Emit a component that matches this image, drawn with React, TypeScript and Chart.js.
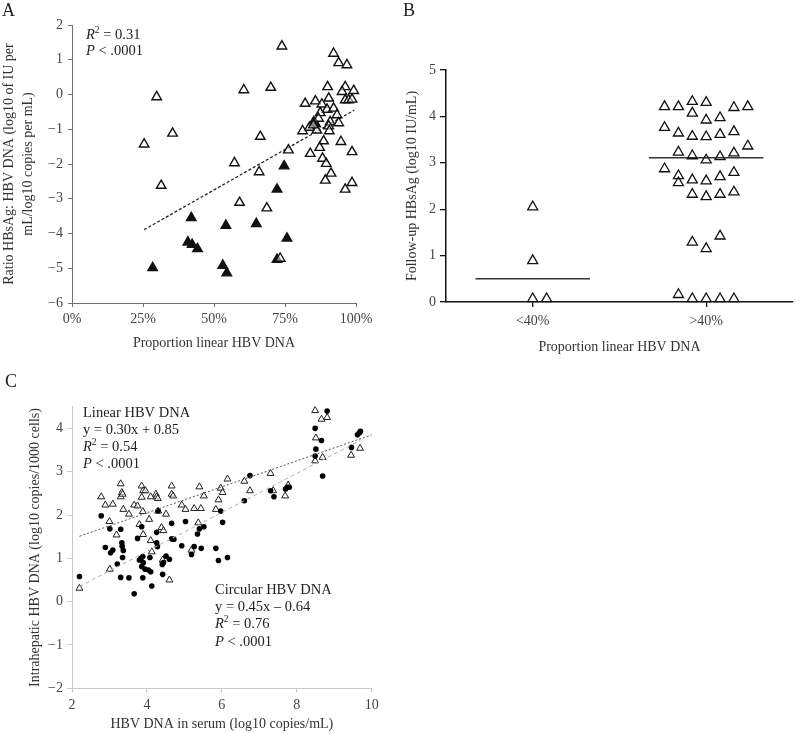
import React, { useEffect, useRef } from 'react';
import { Chart, registerables } from 'chart.js';

Chart.register(...registerables);

const FONT = "'Liberation Serif', 'DejaVu Serif', 'Times New Roman', serif";

// ---------- Panel A data ----------
const aOpen: number[][] = [
  [0.254, -1.43], [0.298, -0.07], [0.314, -2.62], [0.354, -1.12], [0.605, 0.13], [0.700, 0.20],
  [0.739, 1.39], [0.663, -1.21], [0.572, -1.97], [0.659, -2.23], [0.590, -3.11], [0.686, -3.27],
  [0.762, -1.60], [0.733, -4.72], [0.921, 1.18], [0.939, 0.91], [0.968, 0.85], [0.900, 0.22],
  [0.962, 0.22], [0.951, 0.08], [0.992, 0.11], [0.904, -0.11], [0.962, -0.16], [0.974, -0.16],
  [0.986, -0.14], [0.821, -0.26], [0.857, -0.19], [0.880, -0.28], [0.898, -0.43], [0.921, -0.40],
  [0.874, -0.53], [0.868, -0.69], [0.933, -0.59], [0.909, -0.79], [0.939, -0.82], [0.904, -0.91],
  [0.836, -0.95], [0.862, -1.03], [0.812, -1.05], [0.906, -1.05], [0.886, -1.34], [0.947, -1.36],
  [0.839, -1.70], [0.872, -1.53], [0.986, -1.65], [0.882, -1.84], [0.895, -1.99], [0.912, -2.27],
  [0.892, -2.47], [0.986, -2.54], [0.962, -2.73], [0.850, -0.88],
];
const aFilled: number[][] = [
  [0.284, -4.99], [0.420, -3.55], [0.408, -4.25], [0.423, -4.32], [0.442, -4.44], [0.542, -3.77],
  [0.531, -4.92], [0.545, -5.14], [0.649, -3.72], [0.722, -2.73], [0.747, -2.06], [0.757, -4.14],
  [0.722, -4.75], [0.851, -0.79], [0.858, -0.85],
];
const aTrendX = [0.254, 0.994];
const aTrendY = [-3.89, -0.45];
const aXTicks = [0, 0.25, 0.5, 0.75, 1];
const aYTicks = [-6, -5, -4, -3, -2, -1, 0, 1, 2];

// ---------- Panel B data ----------
const bCategories = ['<40%', '>40%'];
const bCategoryPos = [1, 3];
const bLowColumns: number[][] = [[2.05, 0.89, 0.07], [0.07]];
const bHighColumns: number[][] = [
  [4.21, 3.76, 2.87],
  [4.21, 3.64, 3.23, 2.72, 2.57, 0.16],
  [4.32, 4.07, 3.57, 3.15, 2.63, 2.32, 1.29, 0.07],
  [4.30, 3.92, 3.56, 3.06, 2.61, 2.27, 1.15, 0.07],
  [3.97, 3.61, 3.13, 2.70, 2.32, 1.42, 0.07],
  [4.19, 3.67, 3.21, 2.79, 2.37, 0.07],
  [4.21, 3.36],
];
const bMedians = [0.5, 3.11];
const bYTicks = [0, 1, 2, 3, 4, 5];

// ---------- Panel C data ----------
const cLinear: number[][] = [
  [2.20, 0.31], [2.78, 2.42], [2.89, 2.23], [3.09, 2.25], [3.00, 1.85], [3.19, 1.54], [3.01, 0.75],
  [3.30, 2.72], [3.30, 2.42], [3.33, 2.52], [3.35, 2.48], [3.37, 2.13], [3.52, 2.02], [3.66, 2.23],
  [3.75, 2.21], [3.86, 2.67], [3.86, 2.41], [3.90, 2.56], [3.96, 2.56], [3.89, 2.08], [3.80, 1.78],
  [3.90, 1.55], [4.06, 1.90], [4.10, 2.42], [4.10, 1.41], [4.13, 1.15], [4.24, 2.48], [4.26, 2.42],
  [4.29, 2.38], [4.30, 2.09], [4.39, 1.71], [4.44, 1.64], [4.42, 0.96], [4.51, 2.02], [4.60, 0.50],
  [4.66, 2.67], [4.66, 2.48], [4.70, 2.44], [4.93, 2.23], [5.03, 2.13], [5.19, 1.19], [5.26, 2.15],
  [5.40, 2.65], [5.44, 2.15], [5.37, 1.82], [5.52, 2.44], [5.84, 2.13], [5.91, 2.35], [5.97, 2.62],
  [6.02, 2.52], [6.15, 2.83], [6.60, 2.78], [6.75, 2.56], [7.30, 2.96], [7.37, 2.56], [7.69, 2.44],
  [7.77, 2.69], [8.49, 4.41], [8.51, 3.78], [8.49, 3.25], [8.66, 4.21], [8.81, 4.25], [8.69, 3.33],
  [9.45, 3.38], [9.69, 3.54],
];
const cCircular: number[][] = [
  [2.20, 0.58], [2.78, 1.98], [2.89, 1.25], [3.01, 1.68], [3.03, 1.13], [3.09, 1.19], [3.21, 0.87],
  [3.30, 1.67], [3.33, 1.36], [3.34, 1.28], [3.35, 1.02], [3.37, 1.18], [3.30, 0.56], [3.52, 0.55],
  [3.66, 0.18], [3.75, 1.46], [3.80, 0.96], [3.84, 1.00], [3.86, 0.81], [3.89, 1.04], [3.90, 0.90],
  [3.86, 1.73], [3.89, 0.55], [3.95, 0.75], [4.08, 1.02], [4.04, 0.73], [4.10, 0.69], [4.13, 0.36],
  [4.26, 1.60], [4.26, 1.36], [4.28, 1.27], [4.30, 2.10], [4.41, 0.86], [4.42, 0.63], [4.44, 0.90],
  [4.51, 1.05], [4.60, 0.98], [4.66, 1.81], [4.66, 1.45], [4.72, 1.44], [4.93, 1.29], [5.03, 1.85],
  [5.19, 1.09], [5.26, 1.27], [5.35, 1.56], [5.40, 1.68], [5.45, 1.23], [5.52, 1.73], [5.84, 1.23],
  [5.91, 0.95], [5.97, 2.09], [6.02, 1.83], [6.15, 1.02], [6.60, 2.33], [6.75, 2.91], [7.30, 2.56],
  [7.39, 2.42], [7.70, 2.60], [7.75, 2.64], [7.80, 2.64], [8.49, 4.00], [8.51, 3.52], [8.49, 3.36],
  [8.66, 3.72], [8.69, 2.90], [8.81, 4.40], [9.46, 3.56], [9.62, 3.85], [9.67, 3.90], [9.70, 3.93],
];
const cLinearFit = [0.30, 0.85];
const cLinearRange = [2.2, 10];
const cCircularFit = [0.45, -0.64];
const cCircularRange = [2.2, 9.7];
const cXTicks = [2, 4, 6, 8, 10];
const cYTicks = [-2, -1, 0, 1, 2, 3, 4];

// ---------- helpers ----------
const JITTER = 0.16;
const MEDIAN_HALF = 0.66;
const toPts = (arr: number[][]) => arr.map(([x, y]) => ({ x, y }));
const columnsToPoints = (cols: number[][], center: number, firstSlot: number) =>
  cols.flatMap((vals, i) => vals.map((y) => ({ x: center + (firstSlot + i) * JITTER, y })));
const fmtNum = (v: number) => (v < 0 ? '\u2212' + Math.abs(v) : String(v));
const setTicks = (vals: number[]) => (s: any) => {
  s.ticks = vals.map((value) => ({ value }));
};

type Part = { t: string; italic?: boolean; sup?: boolean };
type Line = { x: number; y: number; parts: Part[] };

function textPlugin(id: string, label: string, lx: number, ly: number, lines: Line[]) {
  return {
    id,
    afterDraw(chart: any) {
      const ctx = chart.ctx;
      ctx.save();
      ctx.textBaseline = 'alphabetic';
      ctx.textAlign = 'left';
      ctx.fillStyle = '#222';
      ctx.font = `18px ${FONT}`;
      ctx.fillText(label, lx, ly);
      for (const line of lines) {
        let x = line.x;
        for (const p of line.parts) {
          const size = p.sup ? 9.5 : 14.5;
          ctx.font = `${p.italic ? 'italic ' : ''}${size}px ${FONT}`;
          ctx.fillText(p.t, x, p.sup ? line.y - 6 : line.y);
          x += ctx.measureText(p.t).width;
        }
      }
      ctx.restore();
    },
  };
}

const tickFont = { family: FONT, size: 14 };
const titleFont = { family: FONT, size: 14, lineHeight: 1.33 };
const TICK_COLOR = '#444';
const TITLE_COLOR = '#333';

const baseOptions = (padding: any) => ({
  animation: false,
  responsive: false,
  events: [],
  layout: { padding },
  plugins: { legend: { display: false }, tooltip: { enabled: false } },
});

function statLines(x: number, y0: number, step: number, head: string | null, eq: string | null, r2: string): Line[] {
  const lines: Line[] = [];
  let y = y0;
  if (head) { lines.push({ x, y, parts: [{ t: head }] }); y += step; }
  if (eq) { lines.push({ x, y, parts: [{ t: eq }] }); y += step; }
  lines.push({ x, y, parts: [{ t: 'R', italic: true }, { t: '2', sup: true }, { t: ' = ' + r2 }] });
  y += step;
  lines.push({ x, y, parts: [{ t: 'P', italic: true }, { t: ' < .0001' }] });
  return lines;
}

function configA(): any {
  return {
    type: 'scatter',
    data: {
      datasets: [
        {
          data: toPts(aOpen), pointStyle: 'triangle', pointRadius: 5.5, borderWidth: 1.4,
          borderColor: '#111', backgroundColor: 'rgba(255,255,255,0.5)', clip: false,
        },
        {
          data: toPts(aFilled), pointStyle: 'triangle', pointRadius: 5.5, borderWidth: 1.4,
          borderColor: '#111', backgroundColor: '#111', clip: false,
        },
        {
          data: aTrendX.map((x, i) => ({ x, y: aTrendY[i] })), showLine: true, pointRadius: 0,
          borderColor: '#222', borderWidth: 1.3, borderDash: [3, 2],
        },
      ],
    },
    options: {
      ...baseOptions({ top: 25, right: 44, left: 0, bottom: 0 }),
      scales: {
        x: {
          type: 'linear', min: 0, max: 1,
          afterFit: (s: any) => { s.height = 67; },
          afterBuildTicks: setTicks(aXTicks),
          ticks: { callback: (v: number) => Math.round(v * 100) + '%', font: tickFont, color: TICK_COLOR, padding: 4, maxRotation: 0 },
          grid: { display: true, drawOnChartArea: false, drawTicks: true, tickLength: 4, color: '#707070' },
          border: { color: '#707070', width: 1 },
          title: { display: true, text: 'Proportion linear HBV DNA', font: titleFont, color: TITLE_COLOR, padding: { top: 0, bottom: 17 } },
        },
        y: {
          type: 'linear', min: -6, max: 2,
          afterFit: (s: any) => { s.width = 72; },
          afterBuildTicks: setTicks(aYTicks),
          ticks: { callback: (v: number) => fmtNum(v), font: tickFont, color: TICK_COLOR, padding: 5 },
          grid: { display: true, drawOnChartArea: false, drawTicks: true, tickLength: 4, color: '#707070' },
          border: { color: '#707070', width: 1 },
          title: {
            display: true, text: ['Ratio HBsAg: HBV DNA (log10 of IU per', 'mL/log10 copies per mL)'],
            font: { ...titleFont, lineHeight: 1.33 }, color: TITLE_COLOR, padding: { top: 0, bottom: 0 },
          },
        },
      },
    },
    plugins: [textPlugin('txtA', 'A', 2, 16, statLines(86, 38.5, 16.7, null, null, '0.31'))],
  };
}

function configB(): any {
  const medianSets = bMedians.map((m, i) => ({
    data: [{ x: bCategoryPos[i] - MEDIAN_HALF, y: m }, { x: bCategoryPos[i] + MEDIAN_HALF, y: m }],
    showLine: true, pointRadius: 0, borderColor: '#333', borderWidth: 1.5,
  }));
  return {
    type: 'scatter',
    data: {
      datasets: [
        {
          data: [
            ...columnsToPoints(bLowColumns, bCategoryPos[0], 0),
            ...columnsToPoints(bHighColumns, bCategoryPos[1], -3),
          ],
          pointStyle: 'triangle', pointRadius: 5.8, borderWidth: 1.3,
          borderColor: '#111', backgroundColor: 'rgba(255,255,255,0)', clip: false,
        },
        ...medianSets,
      ],
    },
    options: {
      ...baseOptions({ top: 70, right: 4, left: 0, bottom: 0 }),
      scales: {
        x: {
          type: 'linear', min: 0, max: 4,
          afterFit: (s: any) => { s.height = 68; },
          afterBuildTicks: setTicks(bCategoryPos),
          ticks: {
            callback: (v: number) => bCategories[bCategoryPos.indexOf(v)] ?? '',
            font: tickFont, color: TICK_COLOR, padding: 6, maxRotation: 0,
          },
          grid: { display: true, drawOnChartArea: false, drawTicks: true, tickLength: 5, color: '#111', lineWidth: 1.3 },
          border: { color: '#111', width: 1.5 },
          title: { display: true, text: 'Proportion linear HBV DNA', font: titleFont, color: TITLE_COLOR, padding: { top: 0, bottom: 13 } },
        },
        y: {
          type: 'linear', min: 0, max: 5,
          afterFit: (s: any) => { s.width = 46; },
          afterBuildTicks: setTicks(bYTicks),
          ticks: { callback: (v: number) => fmtNum(v), font: tickFont, color: TICK_COLOR, padding: 4 },
          grid: { display: true, drawOnChartArea: false, drawTicks: true, tickLength: 6, color: '#111', lineWidth: 1.3 },
          border: { color: '#111', width: 1.5 },
          title: {
            display: true, text: 'Follow-up HBsAg (log10 IU/mL)', font: titleFont, color: TITLE_COLOR,
            padding: { top: 3, bottom: 0 },
          },
        },
      },
    },
    plugins: [textPlugin('txtB', 'B', 3, 16, [])],
  };
}

function configC(): any {
  const fitLine = (fit: number[], range: number[]) => range.map((x) => ({ x, y: fit[0] * x + fit[1] }));
  return {
    type: 'scatter',
    data: {
      datasets: [
        {
          data: fitLine(cLinearFit, cLinearRange), showLine: true, pointRadius: 0,
          borderColor: '#555', borderWidth: 1, borderDash: [2, 2],
        },
        {
          data: fitLine(cCircularFit, cCircularRange), showLine: true, pointRadius: 0,
          borderColor: '#b0b0b0', borderWidth: 1, borderDash: [4, 3],
        },
        {
          data: toPts(cCircular), pointStyle: 'circle', pointRadius: 2.8, borderWidth: 0,
          borderColor: '#000', backgroundColor: '#000', clip: false,
        },
        {
          data: toPts(cLinear), pointStyle: 'triangle', pointRadius: 4, borderWidth: 1,
          borderColor: '#222', backgroundColor: 'rgba(255,255,255,0.6)', clip: false,
        },
      ],
    },
    options: {
      ...baseOptions({ top: 36.7, right: 48.3, left: 0, bottom: 0 }),
      scales: {
        x: {
          type: 'linear', min: 2, max: 10,
          afterFit: (s: any) => { s.height = 45.7; },
          afterBuildTicks: setTicks(cXTicks),
          ticks: { callback: (v: number) => fmtNum(v), font: tickFont, color: TICK_COLOR, padding: 5, maxRotation: 0 },
          grid: { display: true, drawOnChartArea: false, drawTicks: true, tickLength: 4, color: '#c8c8c8' },
          border: { color: '#c8c8c8', width: 1 },
          title: { display: true, text: 'HBV DNA in serum (log10 copies/mL)', font: titleFont, color: TITLE_COLOR, padding: { top: 0, bottom: 0 } },
        },
        y: {
          type: 'linear', min: -2, max: 4.5,
          afterFit: (s: any) => { s.width = 72; },
          afterBuildTicks: setTicks(cYTicks),
          ticks: { callback: (v: number) => fmtNum(v), font: tickFont, color: TICK_COLOR, padding: 4 },
          grid: { display: true, drawOnChartArea: false, drawTicks: true, tickLength: 5, color: '#c8c8c8' },
          border: { color: '#c8c8c8', width: 1 },
          title: {
            display: true, text: 'Intrahepatic HBV DNA (log10 copies/1000 cells)', font: titleFont, color: TITLE_COLOR,
            padding: { top: 26, bottom: 0 },
          },
        },
      },
    },
    plugins: [
      textPlugin('txtC', 'C', 5, 17, [
        ...statLines(83, 46.7, 17.2, 'Linear HBV DNA', 'y = 0.30x + 0.85', '0.54'),
        ...statLines(215, 224, 17.2, 'Circular HBV DNA', 'y = 0.45x \u2013 0.64', '0.76'),
      ]),
    ],
  };
}

function Panel({ make, left, top, width, height }: { make: () => any; left: number; top: number; width: number; height: number }) {
  const ref = useRef<HTMLCanvasElement | null>(null);
  useEffect(() => {
    if (!ref.current) return;
    const chart = new Chart(ref.current, make());
    return () => chart.destroy();
  }, []);
  return (
    <div style={{ position: 'absolute', left, top, width, height }}>
      <canvas ref={ref} width={width} height={height} style={{ display: 'block', width, height }} />
    </div>
  );
}

export default function App() {
  return (
    <div style={{ position: 'fixed', left: 0, top: 0, width: 800, height: 734, background: '#fff', overflow: 'hidden' }}>
      <Panel make={configA} left={0} top={0} width={400} height={370} />
      <Panel make={configB} left={400} top={0} width={400} height={370} />
      <Panel make={configC} left={0} top={370} width={420} height={364} />
    </div>
  );
}
